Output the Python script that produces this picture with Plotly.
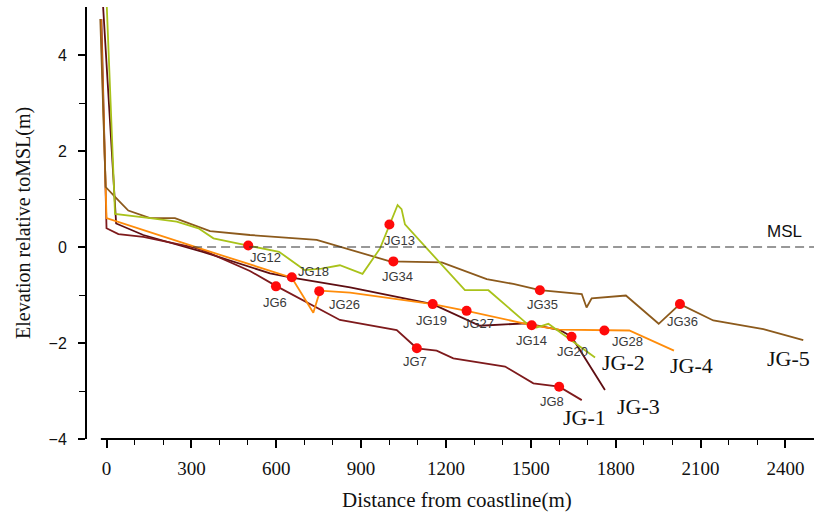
import plotly.graph_objects as go

# ---------------- data ----------------
jg1_x = [-18, 0, 42, 130, 307, 342, 507, 599, 825, 1026, 1097, 1167, 1226, 1409, 1509, 1600, 1680]
jg1_y = [4.75, 0.39, 0.27, 0.21, -0.01, -0.07, -0.5, -0.81, -1.52, -1.73, -2.11, -2.16, -2.32, -2.49, -2.84, -2.91, -3.19]

jg2_x = [-1, 30, 154, 248, 325, 378, 501, 610, 700, 760, 825, 905, 967, 1000, 1029, 1043, 1055, 1267, 1350, 1485, 1520, 1562, 1727]
jg2_y = [5.3, 0.69, 0.6, 0.53, 0.39, 0.18, 0.03, -0.1, -0.48, -0.45, -0.38, -0.56, -0.03, 0.47, 0.875, 0.79, 0.47, -0.9, -0.9, -1.59, -1.68, -1.6, -2.3]

jg3_x = [-13, 34, 130, 340, 578, 655, 861, 1153, 1320, 1379, 1485, 1603, 1644, 1762]
jg3_y = [5.1, 0.49, 0.25, -0.1, -0.55, -0.64, -0.84, -1.19, -1.64, -1.62, -1.59, -1.73, -1.87, -2.98]

jg4_x = [-20, 0, 330, 655, 731, 749, 755, 861, 1153, 1273, 1503, 1600, 1760, 1848, 2006]
jg4_y = [4.75, 0.6, -0.03, -0.64, -1.37, -1.0, -0.91, -0.95, -1.19, -1.33, -1.63, -1.72, -1.74, -1.74, -2.16]

jg5_x = [-22, -3, 36, 77, 154, 242, 366, 507, 743, 967, 1002, 1185, 1344, 1438, 1532, 1680, 1697, 1715, 1836, 1952, 2027, 2145, 2322, 2463]
jg5_y = [4.75, 1.25, 1.01, 0.76, 0.6, 0.6, 0.33, 0.25, 0.15, -0.24, -0.3, -0.32, -0.67, -0.77, -0.9, -0.98, -1.26, -1.07, -1.01, -1.6, -1.19, -1.53, -1.71, -1.94]

pt_names = ["JG12", "JG13", "JG34", "JG6", "JG18", "JG26", "JG19", "JG27", "JG14",
            "JG20", "JG35", "JG28", "JG36", "JG7", "JG8"]
pt_x = [501, 1000, 1014, 599, 655, 752, 1153, 1273, 1503, 1644, 1532, 1760, 2027, 1097, 1600]
pt_y = [0.03, 0.47, -0.3, -0.82, -0.63, -0.92, -1.19, -1.33, -1.63, -1.87, -0.9, -1.74, -1.19, -2.11, -2.91]

profile_names = ["JG-1", "JG-2", "JG-3", "JG-4", "JG-5"]
msl_label = "MSL"
x_ticks = [0, 300, 600, 900, 1200, 1500, 1800, 2100, 2400]
y_ticks = [-4, -2, 0, 2, 4]

# ---------------- styles / positions ----------------
# label offsets in pixels (dx, dy; dy positive = down)
pt_offsets = {
    "JG12": (17, 12), "JG13": (10, 16), "JG34": (4, 15), "JG6": (-1, 16),
    "JG18": (22, -6), "JG26": (25, 13), "JG19": (-1, 16), "JG27": (12, 13),
    "JG14": (0, 15), "JG20": (1, 15), "JG35": (3, 14), "JG28": (23, 11),
    "JG36": (3, 17), "JG7": (-2, 13), "JG8": (-7, 15),
}
profile_label_pos = {
    "JG-1": (1691, -3.56), "JG-2": (1826, -2.41), "JG-3": (1882, -3.33),
    "JG-4": (2069, -2.47), "JG-5": (2410, -2.32),
}
colors = {
    "JG-1": "#7E1A1C", "JG-2": "#A9C21A", "JG-3": "#5E0E12",
    "JG-4": "#FF8C0A", "JG-5": "#8C5A1C",
}
series = {
    "JG-1": (jg1_x, jg1_y), "JG-2": (jg2_x, jg2_y), "JG-3": (jg3_x, jg3_y),
    "JG-4": (jg4_x, jg4_y), "JG-5": (jg5_x, jg5_y),
}
draw_order = ["JG-3", "JG-1", "JG-4", "JG-5", "JG-2"]

serif = "Liberation Serif, Times New Roman, serif"
sans = "Liberation Sans, Arial, sans-serif"

fig = go.Figure()
for name in draw_order:
    xs, ys = series[name]
    fig.add_trace(go.Scatter(x=xs, y=ys, mode="lines", name=name,
                             line=dict(color=colors[name], width=1.8),
                             showlegend=False, hoverinfo="skip"))

fig.add_trace(go.Scatter(x=pt_x, y=pt_y, mode="markers",
                         marker=dict(color="#FF0A0A", size=10),
                         showlegend=False, hoverinfo="skip"))

annotations = []
for n, x, y in zip(pt_names, pt_x, pt_y):
    dx, dy = pt_offsets[n]
    annotations.append(dict(x=x, y=y, xref="x", yref="y", text=n, showarrow=False,
                            xanchor="center", yanchor="middle",
                            xshift=dx, yshift=-dy,
                            font=dict(family=sans, size=13, color="#3a3a3a")))
for n in profile_names:
    x, y = profile_label_pos[n]
    annotations.append(dict(x=x, y=y, xref="x", yref="y", text=n, showarrow=False,
                            xanchor="center", yanchor="middle",
                            font=dict(family=serif, size=22, color="#111")))
annotations.append(dict(x=2398, y=0.32, xref="x", yref="y", text=msl_label, showarrow=False,
                        xanchor="center", yanchor="middle",
                        font=dict(family=sans, size=17, color="#111")))
annotations.append(dict(x=0.509, y=-0.141, xref="paper", yref="paper",
                        text="Distance from coastline(m)", showarrow=False,
                        xanchor="center", yanchor="middle",
                        font=dict(family=serif, size=21, color="#111")))
annotations.append(dict(x=-0.088, y=0.5, xref="paper", yref="paper",
                        text="Elevation relative toMSL(m)", showarrow=False, textangle=-90,
                        xanchor="center", yanchor="middle",
                        font=dict(family=serif, size=20, color="#111")))

shapes = [
    dict(type="line", xref="x", yref="y", x0=306, x1=2501, y0=0, y1=0,
         line=dict(color="#333", width=1.2, dash="9px,5px")),
    dict(type="line", xref="x", yref="paper", x0=-20, x1=2501, y0=0, y1=0,
         line=dict(color="#000", width=2)),
]

fig.update_layout(
    width=814, height=518,
    margin=dict(l=87, r=0, t=7, b=79),
    paper_bgcolor="white", plot_bgcolor="white",
    annotations=annotations, shapes=shapes,
    xaxis=dict(range=[-69, 2501], tickvals=x_ticks, ticks="outside", ticklen=8,
               tickwidth=1.5, tickcolor="#000", showgrid=False, zeroline=False,
               showline=False, ticklabelstandoff=4,
               tickfont=dict(family=serif, size=19, color="#111"),
               minor=dict(tickvals=list(range(100, 2500, 100)), ticks="outside",
                          ticklen=5, tickwidth=1, tickcolor="#000")),
    yaxis=dict(range=[-4, 5], tickvals=y_ticks, ticks="outside", ticklen=7,
               tickwidth=1.5, tickcolor="#000", showgrid=False, zeroline=False,
               showline=True, linecolor="#000", linewidth=2, ticklabelstandoff=8,
               tickfont=dict(family=sans, size=16, color="#111"),
               minor=dict(tickvals=[-3, -1, 1, 3], ticks="outside", ticklen=6,
                          tickwidth=1, tickcolor="#000")),
)

fig.write_html("out.html")
